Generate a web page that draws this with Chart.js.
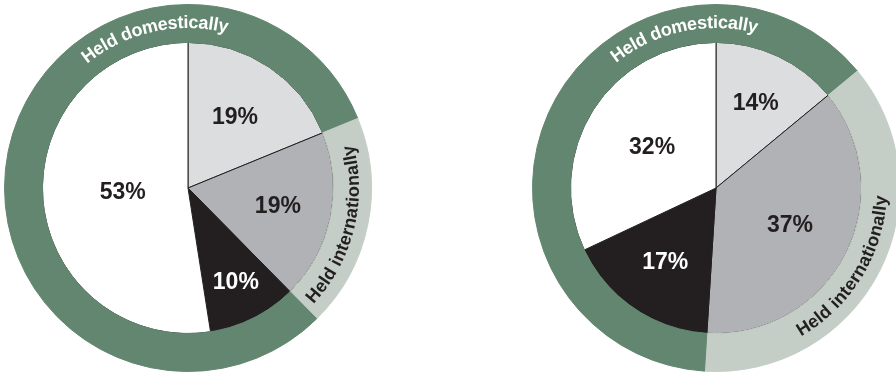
<!DOCTYPE html>
<html>
<head>
<meta charset="utf-8">
<script src="https://cdn.jsdelivr.net/npm/chart.js@4.4.0/dist/chart.umd.min.js"></script>
<style>
  body { margin: 0; background: #fff; overflow: hidden; width: 896px; height: 376px; }
  canvas { position: absolute; top: 0; }
  #leftChart { left: 0; }
  #rightChart { left: 528px; }
</style>
</head>
<body>
<canvas id="leftChart" width="376" height="376"></canvas>
<canvas id="rightChart" width="376" height="376"></canvas>
<script>
// slices, clockwise from 12 o'clock
var sliceNames = ['Domestic A', 'International', 'Domestic B', 'Domestic C'];
var leftValues = [19, 19, 10, 53];
var rightValues = [14, 37, 17, 32];

// outer ring: domestic / international / domestic
var ringNames = ['Held domestically', 'Held internationally', 'Held domestically'];
var leftRing = [19, 19, 63];
var rightRing = [14, 37, 49];

var domesticText = 'Held domestically';
var internationalText = 'Held internationally';

var sliceColors = ['#dcdddf', '#b1b2b5', '#231f20', '#ffffff'];
var labelColors = ['#231f20', '#231f20', '#ffffff', '#231f20'];
var ringColors = ['#62866f', '#c4cec6', '#62866f'];
var FONT = '"Liberation Sans", Arial, Helvetica, sans-serif';

// draw a string bent round a circle
function arcText(ctx, text, cx, cy, r, centre, clockwise) {
  ctx.save();
  ctx.textAlign = 'center';
  ctx.textBaseline = 'middle';
  var total = ctx.measureText(text).width;
  var dir = clockwise ? 1 : -1;
  var a0 = centre - dir * total / (2 * r);
  var acc = 0;
  for (var i = 0; i < text.length; i++) {
    var ch = text[i];
    var w = ctx.measureText(ch).width;
    var a = a0 + dir * (acc + w / 2) / r;
    ctx.save();
    ctx.translate(cx + r * Math.cos(a), cy + r * Math.sin(a));
    ctx.rotate(a + dir * Math.PI / 2);
    ctx.fillText(ch, 0, 0);
    ctx.restore();
    acc += w;
  }
  ctx.restore();
}

var labelPlugin = {
  id: 'labels',
  afterDatasetsDraw: function (chart, args, opts) {
    var ctx = chart.ctx;
    var meta = chart.getDatasetMeta(1);
    var values = chart.data.datasets[1].data;
    ctx.save();
    ctx.font = 'bold 23px ' + FONT;
    ctx.textAlign = 'center';
    ctx.textBaseline = 'middle';
    meta.data.forEach(function (arc, i) {
      var mid = (arc.startAngle + arc.endAngle) / 2;
      var r = arc.outerRadius * opts.labelRadius[i];
      ctx.fillStyle = labelColors[i];
      ctx.fillText(values[i] + '%', arc.x + r * Math.cos(mid), arc.y + r * Math.sin(mid));
    });
    // ring captions
    var arc0 = meta.data[0];
    var cx = arc0.x, cy = arc0.y;
    ctx.font = 'bold 18px ' + FONT;
    ctx.fillStyle = '#ffffff';
    arcText(ctx, domesticText, cx, cy, 165, (opts.domesticAngle - 90) * Math.PI / 180, true);
    ctx.fillStyle = '#231f20';
    arcText(ctx, internationalText, cx, cy, 166, (opts.internationalAngle - 90) * Math.PI / 180, false);
    ctx.restore();
  }
};

function makeChart(id, values, ring, opts) {
  return new Chart(document.getElementById(id), {
    type: 'doughnut',
    data: {
      labels: sliceNames,
      datasets: [
        {
          label: 'Holder',
          data: ring,
          backgroundColor: ringColors,
          borderColor: ringColors,
          borderWidth: 1,
          weight: 38
        },
        {
          label: 'Share',
          data: values,
          backgroundColor: sliceColors,
          borderColor: '#231f20',
          borderWidth: 1,
          weight: 146
        }
      ]
    },
    options: {
      responsive: false,
      animation: false,
      cutout: 0,
      layout: { padding: 4 },
      plugins: {
        legend: { display: false },
        tooltip: { enabled: false },
        labels: opts
      }
    },
    plugins: [labelPlugin]
  });
}

makeChart('leftChart', leftValues, leftRing, {
  labelRadius: [0.58, 0.63, 0.73, 0.45],
  domesticAngle: -12.5,
  internationalAngle: 104
});
makeChart('rightChart', rightValues, rightRing, {
  labelRadius: [0.64, 0.57, 0.62, 0.52],
  domesticAngle: -12,
  internationalAngle: 121.5
});
</script>
</body>
</html>
